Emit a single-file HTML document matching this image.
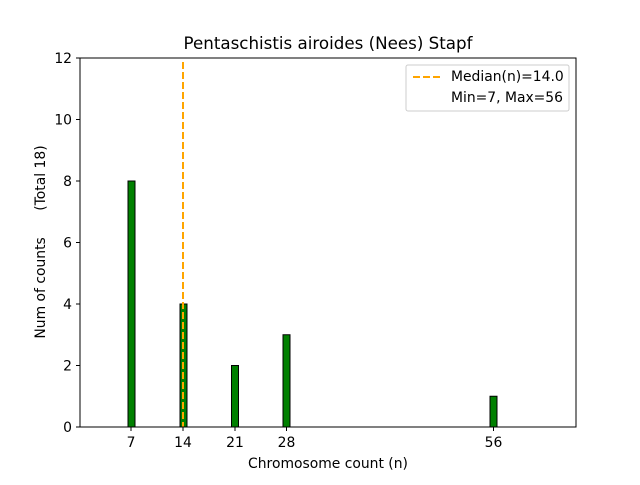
<!DOCTYPE html>
<html><head><meta charset="utf-8"><style>body{margin:0;background:#fff}</style></head>
<body>
<svg width="640" height="480" xmlns="http://www.w3.org/2000/svg" font-family="DejaVu Sans, Liberation Sans, sans-serif">
<rect width="640" height="480" fill="#fff"/>
<g fill="#008000" stroke="#000" stroke-width="1">
<rect x="128" y="181" width="7" height="246"/>
<rect x="180" y="304" width="7" height="123"/>
<rect x="231.5" y="365.5" width="7" height="61.5"/>
<rect x="283" y="334.75" width="7" height="92.25"/>
<rect x="490" y="396.25" width="7" height="30.75"/>
</g>
<line x1="183" y1="62" x2="183" y2="427" stroke="#FFA500" stroke-width="2" stroke-dasharray="7,3"/>
<rect x="80" y="58" width="496" height="369" fill="none" stroke="#000" stroke-width="1"/>
<g stroke="#000">
<line x1="131" y1="427" x2="131" y2="431"/><line x1="183" y1="427" x2="183" y2="431"/>
<line x1="235" y1="427" x2="235" y2="431"/><line x1="286.5" y1="427" x2="286.5" y2="431"/>
<line x1="493.5" y1="427" x2="493.5" y2="431"/>
<line x1="76" y1="427" x2="80" y2="427"/><line x1="76" y1="365.5" x2="80" y2="365.5"/>
<line x1="76" y1="304" x2="80" y2="304"/><line x1="76" y1="242.5" x2="80" y2="242.5"/>
<line x1="76" y1="181" x2="80" y2="181"/><line x1="76" y1="119.5" x2="80" y2="119.5"/>
<line x1="76" y1="58" x2="80" y2="58"/>
</g>
<g font-size="13.9" text-anchor="middle" fill="#000">
<text x="131" y="447">7</text><text x="183" y="447">14</text><text x="235" y="447">21</text>
<text x="286.5" y="447">28</text><text x="493.5" y="447">56</text>
<text x="328" y="468">Chromosome count (n)</text>
</g>
<g font-size="13.9" text-anchor="end">
<text x="72" y="432">0</text><text x="72" y="370.5">2</text><text x="72" y="309">4</text>
<text x="72" y="247.5">6</text><text x="72" y="186">8</text><text x="72" y="124.5">10</text><text x="72" y="63">12</text>
</g>
<text transform="translate(45,242) rotate(-90)" font-size="13.9" text-anchor="middle" xml:space="preserve" style="white-space:pre">Num of counts      (Total 18)</text>
<text x="328" y="49" font-size="16.7" text-anchor="middle">Pentaschistis airoides (Nees) Stapf</text>
<rect x="406" y="65" width="163" height="46" rx="2" fill="#fff" stroke="#ccc"/>
<line x1="413" y1="77" x2="441" y2="77" stroke="#FFA500" stroke-width="2" stroke-dasharray="7,3"/>
<text x="451" y="81" font-size="13.9">Median(n)=14.0</text>
<text x="451" y="102" font-size="13.9">Min=7, Max=56</text>
</svg>
</body></html>
